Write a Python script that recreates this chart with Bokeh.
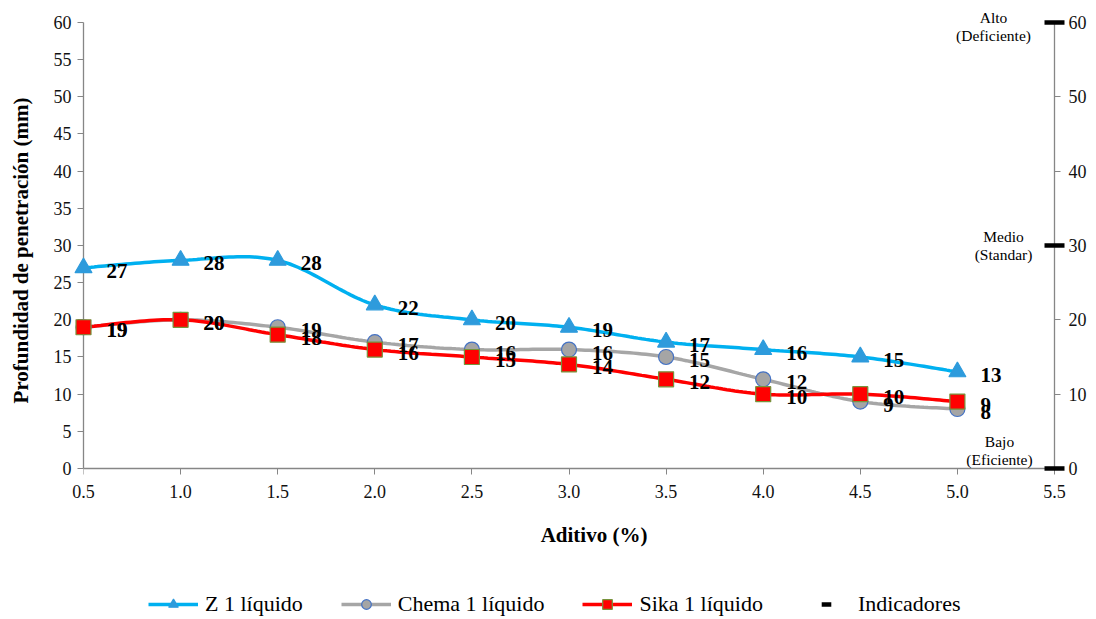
import numpy as np
from bokeh.plotting import figure
from bokeh.models import (Range1d, LinearAxis, Legend, LegendItem, FixedTicker)
from bokeh.core.properties import value
from bokeh.embed import file_html
from bokeh.resources import INLINE

# Series data
aditivo = [0.5, 1.0, 1.5, 2.0, 2.5, 3.0, 3.5, 4.0, 4.5, 5.0]
z_liquido = [27, 28, 28, 22, 20, 19, 17, 16, 15, 13]
chema_liquido = [19, 20, 19, 17, 16, 16, 15, 12, 9, 8]
sika_liquido = [19, 20, 18, 16, 15, 14, 12, 10, 10, 9]

# Reference levels on the secondary axis
indicador_x = [5.5, 5.5, 5.5]
indicador_y = [60, 30, 0]
indicador_texto = ["Alto\n(Deficiente)", "Medio\n(Standar)", "Bajo\n(Eficiente)"]

x_ticks = [0.5, 1.0, 1.5, 2.0, 2.5, 3.0, 3.5, 4.0, 4.5, 5.0, 5.5]
y_ticks_left = list(range(0, 61, 5))
y_ticks_right = list(range(0, 61, 10))

x_title = "Aditivo (%)"
y_title = "Profundidad de penetración (mm)"

SERIF = "Liberation Serif"
X0, X1 = 0.5, 5.5
Y0, Y1 = 0, 60


def smooth(xs, ys, n=24):
    """Cubic Bezier smoothing through every point (Catmull-Rom style tangents)."""
    pts = np.column_stack([xs, ys]).astype(float)
    ext = np.vstack([pts[0], pts, pts[-1]])
    out = [pts[0]]
    t = np.linspace(0, 1, n + 1)[1:, None]
    for i in range(len(pts) - 1):
        p0, p1, p2, p3 = ext[i], ext[i + 1], ext[i + 2], ext[i + 3]
        c1 = p1 + (p2 - p0) / 6.0
        c2 = p2 - (p3 - p1) / 6.0
        seg = ((1 - t) ** 3) * p1 + 3 * ((1 - t) ** 2) * t * c1 + 3 * (1 - t) * (t ** 2) * c2 + (t ** 3) * p2
        out.extend(seg)
    arr = np.array(out)
    return arr[:, 0], arr[:, 1]


# The frame covers the whole area below and right of the 0.5-5.5 / 0-60 box
# (so the legend can live inside it); the axes are pinned to the box edges.
px_x = 194.2     # pixels per % of additive
px_y = 7.433     # pixels per mm
frame_w, frame_h = 1004, 597
y_low = Y0 - (frame_h - (Y1 - Y0) * px_y) / px_y
x_high = X0 + frame_w / px_x

p = figure(frame_width=frame_w, frame_height=frame_h,
           x_range=Range1d(X0, x_high), y_range=Range1d(y_low, Y1),
           x_axis_location="above",
           output_backend="svg", toolbar_location=None,
           min_border_left=83, min_border_right=0, min_border_top=22, min_border_bottom=0)
p.outline_line_color = None
p.xgrid.visible = False
p.ygrid.visible = False
p.background_fill_color = "white"
p.border_fill_color = "white"

p.extra_y_ranges = {"ind": Range1d(y_low, Y1)}
right_axis = LinearAxis(y_range_name="ind", ticker=FixedTicker(ticks=y_ticks_right),
                        bounds=(Y0, Y1), fixed_location=X1,
                        major_label_overrides={t: "" for t in y_ticks_right})
p.add_layout(right_axis, "right")

xaxis = p.xaxis[0]
xaxis.ticker = FixedTicker(ticks=x_ticks)
xaxis.bounds = (X0, X1)
xaxis.fixed_location = Y0
xaxis.major_label_overrides = {t: "" for t in x_ticks}
p.yaxis[0].ticker = FixedTicker(ticks=y_ticks_left)
p.yaxis[0].bounds = (Y0, Y1)

for ax in p.axis:
    ax.axis_line_color = "#868686"
    ax.axis_line_width = 1.3
    ax.major_tick_line_color = "#868686"
    ax.major_tick_out = 6
    ax.major_tick_in = 0
    ax.minor_tick_line_color = None
    ax.major_label_text_font = SERIF
    ax.major_label_text_font_size = "18px"
    ax.major_label_text_color = "#111111"
    ax.major_label_standoff = 6
right_axis.major_label_standoff = 0
# the x axis sits in the top panel, so "in" ticks point down
xaxis.major_tick_out = 0
xaxis.major_tick_in = 6
xaxis.major_label_standoff = 0

tick_text = dict(text_font=value(SERIF), text_font_size="18px", text_color="#111111",
                 level="overlay")
title_text = dict(text_font=value(SERIF), text_font_size="21px", text_font_style="bold",
                  text_color="black", level="overlay")

# scale numbers for the x axis and the secondary y axis
p.text(x_ticks, [Y0] * len(x_ticks), text=[f"{v:.1f}" for v in x_ticks],
       y_offset=23, text_align="center", text_baseline="middle", **tick_text)
p.text([X1] * len(y_ticks_right), y_ticks_right, text=[str(v) for v in y_ticks_right],
       x_offset=14, text_align="left", text_baseline="middle",
       y_range_name="ind", **tick_text)

# axis titles
p.text([(X0 + X1) / 2], [Y0], text=[x_title], x_offset=25, y_offset=67,
       text_align="center", text_baseline="middle", **title_text)
p.text([X0], [(Y0 + Y1) / 2], text=[y_title], angle=np.pi / 2, x_offset=-63, y_offset=5,
       text_align="center", text_baseline="middle", **title_text)

series = [
    ("Z 1 líquido", z_liquido, "#00B0F0", "triangle", "#2E9BDC", "#2E9BDC", 17),
    ("Chema 1 líquido", chema_liquido, "#A6A6A6", "circle", "#A5A5A5", "#4472C4", 15),
    ("Sika 1 líquido", sika_liquido, "#FF0000", "square", "#FF0000", "#77933C", 15),
]

items = []
lines, marks = [], []
for name, ys, lc, mk, fc, oc, sz in series:
    sx, sy = smooth(aditivo, ys)
    lines.append(p.line(sx, sy, line_color=lc, line_width=3.5))
for name, ys, lc, mk, fc, oc, sz in series:
    marks.append(p.scatter(aditivo, ys, marker=mk, size=sz, fill_color=fc,
                           line_color=oc, line_width=1.2, level="overlay"))
for (name, ys, *_), lr, mr in zip(series, lines, marks):
    items.append(LegendItem(label=name, renderers=[lr, mr]))
for name, ys, *_ in series:
    p.text(aditivo, ys, text=[str(v) for v in ys], x_offset=23, y_offset=3,
           text_baseline="middle", text_align="left",
           text_font=value(SERIF), text_font_style="bold",
           text_font_size="21px", text_color="black", level="overlay")

ind = p.scatter(indicador_x, indicador_y, marker="dash", size=20, line_width=4.5,
                line_color="black", y_range_name="ind", level="overlay")
items.append(LegendItem(label="Indicadores", renderers=[ind]))

# caption placement beside each level marker: (x offset, y offset, baseline)
caption_style = [(-61, 4, "middle"), (-51, 0, "middle"), (-55, 0, "bottom")]
for xv, yv, txt, (dx, dy, bl) in zip(indicador_x, indicador_y, indicador_texto, caption_style):
    p.text([xv], [yv], text=[txt], x_offset=dx, y_offset=dy,
           text_align="center", text_baseline=bl, text_line_height=1.1,
           text_font=value(SERIF), text_font_size="15.5px", text_color="black",
           y_range_name="ind", level="overlay")

legend = Legend(items=items, orientation="horizontal", location=(65, 2),
                glyph_width=50, glyph_height=24, label_height=24,
                label_standoff=7, spacing=38,
                padding=0, margin=0, border_line_color=None,
                background_fill_alpha=0,
                label_text_font=SERIF, label_text_font_size="22px",
                label_text_color="black")
p.add_layout(legend, "center")

open("out.html", "w").write(file_html(p, INLINE))
